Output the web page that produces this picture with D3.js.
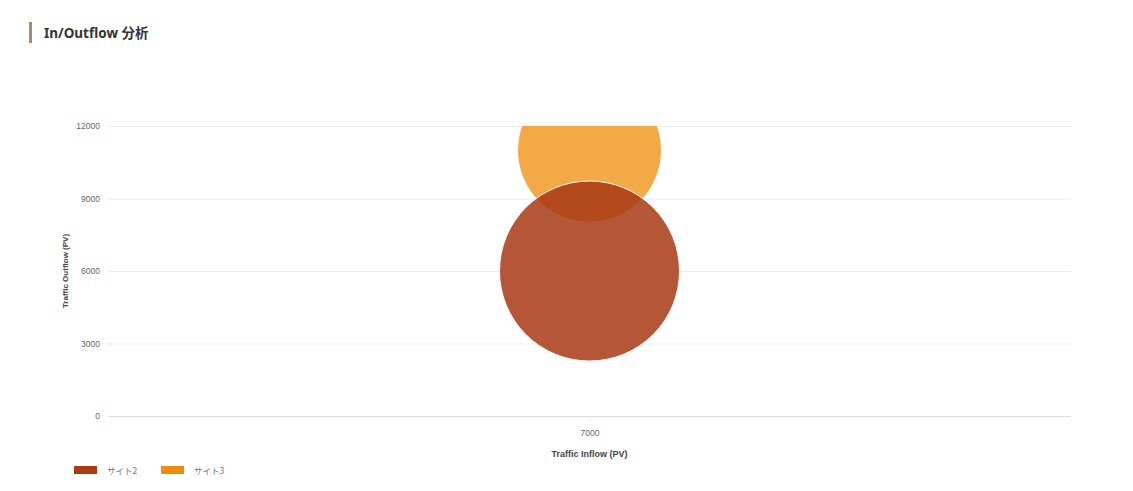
<!DOCTYPE html>
<html>
<head>
<meta charset="utf-8">
<script src="https://cdn.jsdelivr.net/npm/d3@7"></script>
<style>
  body { margin: 0; background: #fff; font-family: "Noto Sans", "Noto Sans CJK JP", sans-serif; }
  .title-bar { position: absolute; left: 29px; top: 22px; width: 3px; height: 21px; background: #a38a72; }
  .title { position: absolute; left: 44px; top: 22px; font-size: 13.5px; font-weight: 700; color: #333; }
  svg { position: absolute; left: 0; top: 0; }
</style>
</head>
<body>
<div class="title-bar"></div>
<div class="title">In/Outflow 分析</div>
<div id="chart"></div>
<script>
// Datos del gráfico
const seriesNames = ['サイト2', 'サイト3'];
const inflow = [7000, 7000];
const outflow = [6000, 11000];
const bubbleSize = [9000, 7200];
const seriesColors = ['#a83a14', '#f08c0a'];
const yTicks = [0, 3000, 6000, 9000, 12000];
const xTicks = [7000];

const width = 1133, height = 491;
const margin = { left: 108, right: 62, top: 126, bottom: 75 };

const svg = d3.select('#chart').append('svg')
    .attr('width', width)
    .attr('height', height);

// Escalas
const x = d3.scaleLinear().domain([6000, 8000]).range([margin.left, width - margin.right]);
const y = d3.scaleLinear().domain([0, 12000]).range([height - margin.bottom, margin.top]);
const r = d3.scaleLinear().domain([0, 9000]).range([0, 90]);

// Rejilla y eje Y
const yAxis = svg.append('g')
    .attr('transform', `translate(${margin.left},0)`)
    .call(d3.axisLeft(y).tickValues(yTicks).tickSize(0).tickPadding(8).tickFormat(d3.format('d')));
yAxis.select('.domain').remove();
yAxis.selectAll('text').attr('fill', '#666').style('font-family', 'Liberation Sans, Arial, sans-serif').style('font-size', '8.5px');
yAxis.selectAll('.tick line').clone()
    .attr('x2', width - margin.right - margin.left)
    .attr('stroke', d => d === 0 ? '#ddd' : '#ebebeb')
    .attr('stroke-width', 1);

// Eje X
const xAxis = svg.append('g')
    .attr('transform', `translate(0,${height - margin.bottom})`)
    .call(d3.axisBottom(x).tickValues(xTicks).tickSize(5).tickPadding(9).tickFormat(d3.format('d')));
xAxis.select('.domain').remove();
xAxis.selectAll('.tick line').attr('stroke', '#ebebeb');
xAxis.selectAll('text').attr('fill', '#666').style('font-family', 'Liberation Sans, Arial, sans-serif').style('font-size', '8.5px');

// Títulos de ejes
svg.append('text')
    .attr('x', x(7000)).attr('y', 457)
    .attr('text-anchor', 'middle')
    .style('font-family', 'Liberation Sans, Arial, sans-serif')
    .style('font-size', '9px').style('font-weight', 'bold').attr('fill', '#444')
    .text('Traffic Inflow (PV)');

svg.append('text')
    .attr('transform', `translate(68,${(y(0) + y(12000)) / 2}) rotate(-90)`)
    .attr('text-anchor', 'middle')
    .style('font-family', 'Liberation Sans, Arial, sans-serif')
    .style('font-size', '8px').style('font-weight', 'bold').attr('fill', '#444')
    .text('Traffic Outflow (PV)');

// Recorte del área de trazado
svg.append('clipPath').attr('id', 'plot-clip')
    .append('rect')
    .attr('x', margin.left).attr('y', margin.top)
    .attr('width', width - margin.left - margin.right)
    .attr('height', height - margin.top - margin.bottom);

// Burbujas (la serie 3 primero, la 2 encima)
const bubbles = seriesNames.map((name, i) => ({ name, x: inflow[i], y: outflow[i], s: bubbleSize[i], color: seriesColors[i] }));
svg.append('g')
    .attr('clip-path', 'url(#plot-clip)')
    .selectAll('circle')
    .data(bubbles.slice().reverse())
    .enter().append('circle')
    .attr('cx', d => x(d.x))
    .attr('cy', d => y(d.y))
    .attr('r', d => r(d.s))
    .attr('fill', d => d.color)
    .attr('fill-opacity', d => d.name === 'サイト2' ? 0.85 : 0.75)
    .attr('stroke', '#fff')
    .attr('stroke-width', 1);

// Leyenda
const legend = svg.append('g').attr('transform', 'translate(74,466)');
const item = legend.selectAll('g')
    .data(bubbles)
    .enter().append('g')
    .attr('transform', (d, i) => `translate(${i * 87},0)`);
item.append('rect')
    .attr('width', 23).attr('height', 8)
    .attr('fill', d => d.color);
item.append('text')
    .attr('x', 33).attr('y', 7.5)
    .style('font-family', 'Noto Sans CJK JP, sans-serif')
    .style('font-size', '8.5px').attr('fill', '#777')
    .text(d => d.name);
</script>
</body>
</html>
